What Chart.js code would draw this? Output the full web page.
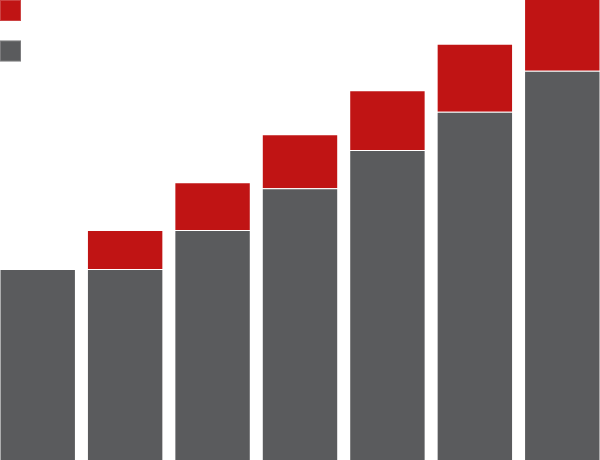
<!DOCTYPE html>
<html>
<head>
<meta charset="utf-8">
<script src="https://cdn.jsdelivr.net/npm/chart.js@4"></script>
<style>
  html, body { margin:0; padding:0; background:#fff; overflow:hidden; }
  #wrap { position:relative; width:600px; height:460px; overflow:hidden; }
  #chart { position:absolute; left:-6px; top:0; }
</style>
</head>
<body>
<div id="wrap"><canvas id="chart" width="612" height="460"></canvas></div>
<script>
// ---------------------------
// DATA
// ---------------------------
const categories = ["1", "2", "3", "4", "5", "6", "7"];
const baseValues = [41.5, 41.5, 50.0, 59.1, 67.4, 75.7, 84.6];
const topValues  = [0, 8.5, 10.4, 11.7, 13.0, 14.8, 16.5];
const seriesNames = ["", ""];
const yMin = 0;
const yMax = 100;

const GRAY = "#5a5b5d";
const RED = "#c01414";
const EDGE = "rgba(255,255,255,0.2)";

// legend boxes without text, drawn top series first
const boxLegend = {
  id: "boxLegend",
  afterDraw(chart){
    const ctx = chart.ctx;
    const sets = chart.data.datasets.slice().reverse();
    ctx.save();
    sets.forEach((ds, i)=>{
      ctx.fillStyle = ds.backgroundColor;
      ctx.fillRect(6, i * 40.5, 21, 21);
      ctx.strokeStyle = ds.borderColor;
      ctx.lineWidth = 1;
      ctx.strokeRect(6.5, i * 40.5 + 0.5, 20, 20);
    });
    ctx.restore();
  }
};

new Chart(document.getElementById("chart"), {
  type: "bar",
  data: {
    labels: categories,
    datasets: [
      { label: seriesNames[0], data: baseValues, backgroundColor: GRAY,
        borderColor: EDGE, borderWidth: 1 },
      { label: seriesNames[1], data: topValues, backgroundColor: RED,
        borderColor: EDGE, borderWidth: 1 }
    ]
  },
  options: {
    responsive: false,
    animation: false,
    devicePixelRatio: 1,
    layout: { padding: 0 },
    datasets: { bar: { categoryPercentage: 1, barPercentage: 0.874 } },
    scales: {
      x: { stacked: true, display: false },
      y: { stacked: true, display: false, min: yMin, max: yMax }
    },
    plugins: { legend: { display: false }, tooltip: { enabled: false } }
  },
  plugins: [boxLegend]
});
</script>
</body>
</html>
